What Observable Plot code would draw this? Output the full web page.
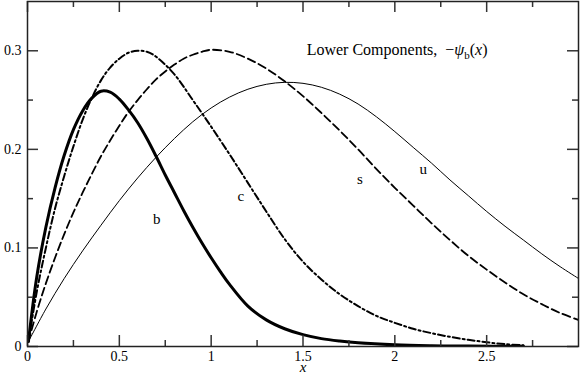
<!DOCTYPE html>
<html><head><meta charset="utf-8">
<script src="https://cdn.jsdelivr.net/npm/d3@7"></script>
<script src="https://cdn.jsdelivr.net/npm/@observablehq/plot@0.6"></script>
<style>
body{margin:0;background:#fff}
#chart svg{display:block}
#chart svg, #chart svg text, #chart svg tspan{font-family:"Liberation Serif","Times New Roman",Times,"DejaVu Serif",serif !important}
</style>
</head><body><div id="chart"></div>
<script>
// ---- data ----
const bX = [0.005,0.05,0.1,0.15,0.2,0.25,0.3,0.35,0.4,0.45,0.5,0.55,0.6,0.65,0.7,0.75,0.8,0.85,0.9,0.95,1.0,1.05,1.1,1.2,1.3,1.4,1.5,1.6,1.7,1.8,2.0,2.2,2.4,2.7];
const bY = [0.005,0.07,0.121,0.161,0.194,0.220,0.239,0.252,0.259,0.258,0.251,0.24,0.227,0.211,0.193,0.174,0.156,0.138,0.121,0.105,0.09,0.076,0.063,0.041,0.027,0.018,0.012,0.008,0.0055,0.0037,0.0017,0.0008,0.0004,0.0002];
const cX = [0.005,0.05,0.1,0.15,0.2,0.25,0.3,0.35,0.4,0.45,0.5,0.55,0.6,0.65,0.7,0.8,0.9,1.0,1.1,1.2,1.3,1.4,1.5,1.6,1.7,1.8,1.9,2.0,2.1,2.2,2.3,2.4,2.5,2.6,2.7];
const cY = [0.005,0.055,0.1,0.14,0.173,0.203,0.23,0.252,0.27,0.283,0.292,0.298,0.300,0.299,0.294,0.276,0.250,0.223,0.195,0.166,0.137,0.109,0.086,0.068,0.053,0.041,0.031,0.024,0.018,0.0135,0.0098,0.0068,0.0043,0.0024,0.0012];
const sX = [0.005,0.05,0.1,0.15,0.2,0.25,0.3,0.35,0.4,0.45,0.5,0.55,0.6,0.65,0.7,0.75,0.8,0.85,0.9,0.95,1.0,1.1,1.2,1.3,1.4,1.5,1.6,1.7,1.8,1.9,2.0,2.1,2.2,2.3,2.4,2.5,2.6,2.7,2.8,2.9,3.0];
const sY = [0.005,0.035,0.064,0.09,0.114,0.136,0.156,0.175,0.193,0.209,0.224,0.238,0.25,0.261,0.271,0.279,0.286,0.292,0.296,0.299,0.301,0.299,0.292,0.282,0.269,0.254,0.237,0.219,0.200,0.180,0.161,0.143,0.125,0.108,0.092,0.078,0.065,0.053,0.043,0.034,0.027];
const uX = [0.005,0.1,0.2,0.3,0.4,0.5,0.6,0.7,0.8,0.9,1.0,1.1,1.2,1.3,1.4,1.5,1.6,1.7,1.8,1.9,2.0,2.1,2.2,2.3,2.4,2.5,2.6,2.7,2.8,2.9,3.0];
const uY = [0.005,0.038,0.069,0.097,0.123,0.148,0.171,0.192,0.211,0.228,0.242,0.253,0.261,0.266,0.268,0.267,0.263,0.256,0.246,0.233,0.218,0.202,0.186,0.169,0.153,0.137,0.122,0.108,0.094,0.081,0.069];

const curveNames = ["b", "c", "s", "u"];
const curveLabelX = [0.704, 1.161, 1.81, 2.155];
const curveLabelY = [0.129, 0.152, 0.170, 0.180];

const titleText = "Lower Components, −ψb(x)";
const titleX = 1.52, titleY = 0.301;
const xAxisLabel = "x";

const xMajor = [0, 0.5, 1, 1.5, 2, 2.5];
const xMinor = [0.25, 0.75, 1.25, 1.75, 2.25, 2.75];
const yMajor = [0, 0.1, 0.2, 0.3];
const yMinor = [0.05, 0.15, 0.25];

// ---- build ----
const W = 581, H = 374;
const mL = 27, mR = 3, mT = 1, mB = 28;
const PW = W - mL - mR, PH = H - mT - mB;
const maj = 11, mnr = 6;
const tickStroke = "#333";
const serif = "Liberation Serif";

const toRows = (xs, ys) => xs.map((x, i) => ({x, y: ys[i]}));
const fmt = d => String(d);

const labels = curveNames.map((n, i) => ({n, x: curveLabelX[i], y: curveLabelY[i]}));

const svg = Plot.plot({
  width: W, height: H,
  marginLeft: mL, marginRight: mR, marginTop: mT, marginBottom: mB,
  style: {fontFamily: serif, fontSize: "14px", color: "#000", background: "#fff"},
  x: {domain: [0, 3], label: null},
  y: {domain: [0, 0.35], label: null},
  marks: [
    // curves
    Plot.line(toRows(uX, uY), {x: "x", y: "y", stroke: "#000", strokeWidth: 1, curve: "catmull-rom", clip: true}),
    Plot.line(toRows(sX, sY), {x: "x", y: "y", stroke: "#000", strokeWidth: 1.8, strokeDasharray: "8,4", curve: "catmull-rom", clip: true}),
    Plot.line(toRows(cX, cY), {x: "x", y: "y", stroke: "#000", strokeWidth: 2, strokeDasharray: "7,3,2,3", curve: "catmull-rom", clip: true}),
    Plot.line(toRows(bX, bY), {x: "x", y: "y", stroke: "#000", strokeWidth: 3, curve: "catmull-rom", clip: true}),
    // inward ticks: bottom / top
    Plot.tickX(xMajor, {x: d => d, insetTop: PH - maj, stroke: tickStroke, strokeWidth: 1.5}),
    Plot.tickX(xMinor, {x: d => d, insetTop: PH - mnr, stroke: tickStroke, strokeWidth: 1.5}),
    Plot.tickX(xMajor, {x: d => d, insetBottom: PH - maj, stroke: tickStroke, strokeWidth: 1.5}),
    Plot.tickX(xMinor, {x: d => d, insetBottom: PH - mnr, stroke: tickStroke, strokeWidth: 1.5}),
    // inward ticks: left / right
    Plot.tickY(yMajor, {y: d => d, insetRight: PW - maj, stroke: tickStroke, strokeWidth: 1.5}),
    Plot.tickY(yMinor, {y: d => d, insetRight: PW - mnr, stroke: tickStroke, strokeWidth: 1.5}),
    Plot.tickY(yMajor, {y: d => d, insetLeft: PW - maj, stroke: tickStroke, strokeWidth: 1.5}),
    Plot.tickY(yMinor, {y: d => d, insetLeft: PW - mnr, stroke: tickStroke, strokeWidth: 1.5}),
    Plot.frame({stroke: "#222", strokeWidth: 1.5}),
    // axes (labels only)
    Plot.axisX(xMajor, {tickSize: 0, tickPadding: 5, tickFormat: fmt, label: null, fontSize: 14, fontFamily: serif}),
    Plot.axisY(yMajor, {tickSize: 0, tickPadding: 6, tickFormat: fmt, label: null, fontSize: 14, fontFamily: serif}),
    // x axis title
    Plot.text([xAxisLabel], {frameAnchor: "bottom", text: d => d, fontStyle: "italic", fontSize: 15, fontFamily: serif, lineAnchor: "top", dy: 15}),
    // curve labels
    Plot.text(labels, {x: "x", y: "y", text: "n", fontSize: 15, fontFamily: serif, fill: "#000"}),
    // title annotation
    Plot.text([{x: titleX, y: titleY, t: titleText}], {x: "x", y: "y", text: "t", textAnchor: "start", fontSize: 16, fontFamily: serif, fill: "#000", className: "ttl"})
  ]
});

// rich text for the annotation: −ψ_b(x)
const t = d3.select(svg).select("g.ttl text");
t.text(null);
t.append("tspan").text("Lower Components,\u00a0\u00a0−");
t.append("tspan").attr("font-style", "italic").text("ψ");
t.append("tspan").attr("font-size", "11px").attr("dy", "4").text("b");
t.append("tspan").attr("dy", "-4").text("(");
t.append("tspan").attr("font-style", "italic").text("x");
t.append("tspan").text(")");

document.getElementById("chart").appendChild(svg);
</script>
</body></html>
